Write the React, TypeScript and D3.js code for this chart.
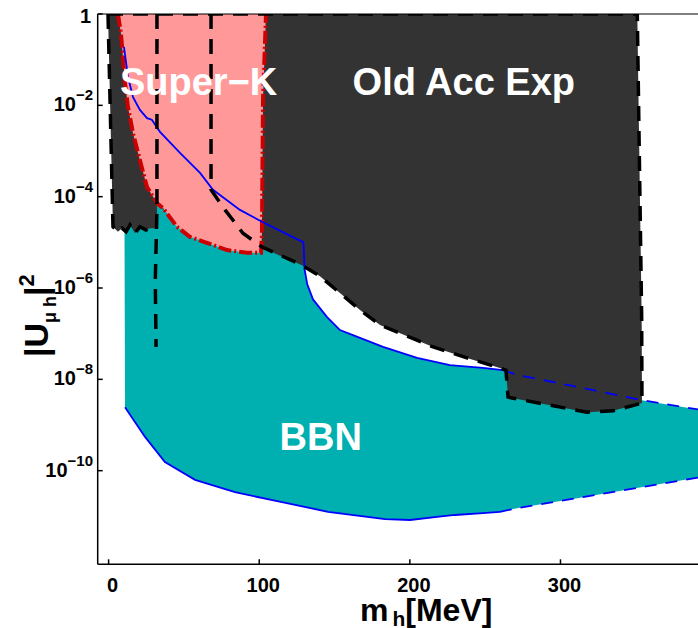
import React from "react";
import * as d3 from "d3";

// ---- data (mass in MeV, log10 |U|^2) ----
const massTicks = [0, 100, 200, 300];
const logTicks = [0, -2, -4, -6, -8, -10];

const bbnUpper: [number, number][] = [
  [10.2, -0.72], [12.9, -1.38], [16.2, -1.82], [20.8, -2.1], [25.5, -2.28], [27.5, -2.3],
  [28.8, -2.32], [34.1, -2.58], [47.4, -3.04], [60.7, -3.48], [69.3, -3.85], [87.2, -4.29],
  [101.8, -4.55], [129.4, -5.0], [130.1, -5.59], [131.9, -5.92], [135.7, -6.25],
  [144.9, -6.63], [153.6, -6.92], [162.2, -7.03], [182.2, -7.29], [204.8, -7.53],
  [226.6, -7.69], [248.5, -7.75], [261.8, -7.8],
];
const bbnUpperDashed: [number, number][] = [
  [261.8, -7.8], [271.1, -7.9], [314.9, -8.19], [352.8, -8.45], [391.3, -8.66],
];
const bbnLower: [number, number][] = [
  [10.9, -8.61], [24.2, -9.26], [37.4, -9.81], [57.4, -10.2], [83.9, -10.47], [115.1, -10.69],
  [145.7, -10.9], [183.5, -11.06], [200.1, -11.08], [218.0, -11.01], [229.9, -10.97],
  [248.5, -10.93], [259.8, -10.9],
];
const bbnLowerDashed: [number, number][] = [
  [259.8, -10.9], [271.1, -10.82], [314.9, -10.58], [391.3, -10.15],
];

const superK: [number, number][] = [
  [6.2, 0], [8.2, -0.42], [10.9, -1.51], [12.9, -2.04], [16.2, -2.61], [20.8, -3.2],
  [25.5, -3.79], [32.1, -4.14], [36.1, -4.25], [45.4, -4.66], [54.0, -4.88], [65.3, -5.01],
  [78.6, -5.17], [91.9, -5.23], [101.2, -5.23], [101.8, -4.8], [102.5, -1.88], [104.5, 0],
];

const oldAccRegion: [number, number][] = [
  [-0.4, 0], [2.9, -4.66], [6.2, -4.77], [8.9, -4.69], [11.6, -4.77], [14.2, -4.62],
  [17.5, -4.8], [20.8, -4.66], [24.8, -4.73], [27.5, -4.69], [31.5, -4.69], [32.1, -4.6],
  [32.1, -4.14], [45.4, -4.6], [54.0, -4.83], [65.3, -4.97], [78.6, -5.12], [91.9, -5.18],
  [101.8, -5.12], [128.4, -5.5], [140.3, -5.74], [153.6, -6.11], [166.9, -6.48],
  [180.2, -6.81], [193.5, -6.99], [215.4, -7.29], [237.9, -7.53], [259.8, -7.75],
  [263.8, -7.8], [265.2, -8.39], [317.6, -8.72], [334.9, -8.69], [354.1, -8.52],
  [353.9, -6.63], [351.0, 0],
];
const oldAccLeftEdge: [number, number][] = [
  [-0.4, 0], [2.9, -4.66], [6.2, -4.77], [8.9, -4.69], [11.6, -4.77], [14.2, -4.62],
  [17.5, -4.8], [20.8, -4.66], [24.8, -4.73], [27.5, -4.69], [31.5, -4.69],
];
const oldAccVertical: [number, number][] = [
  [32.1, 0], [32.1, -4.29], [31.0, -5.83], [31.5, -7.29],
];
const oldAccMain: [number, number][] = [
  [68.0, 0], [68.0, -3.85], [77.3, -4.29], [89.2, -4.8], [101.8, -5.1], [128.4, -5.5],
  [140.3, -5.74], [153.6, -6.11], [166.9, -6.48], [180.2, -6.81], [193.5, -6.99],
  [215.4, -7.29], [237.9, -7.53], [259.8, -7.75], [263.8, -7.8], [265.2, -8.39],
  [317.6, -8.72], [334.9, -8.69], [354.1, -8.52], [353.9, -6.63], [351.0, 0],
];
const oldAccTop: [number, number][] = [[-0.4, 0], [351.0, 0]];

const W = 698;
const H = 628;
const L = 97.7;
const R = 698;
const T = 14;
const B = 564.3;

const FONT = "'Liberation Sans', Arial, Helvetica, sans-serif";

export default function App() {
  const x = d3.scaleLinear().domain([-7.24, 391.3]).range([L, R]);
  const y = d3.scaleLog().domain([Math.pow(10, -12.05), 1]).range([B, T]);
  const line = d3
    .line<[number, number]>()
    .x((d) => x(d[0]))
    .y((d) => y(Math.pow(10, d[1])));
  const closed = (pts: [number, number][]) => line(pts) + "Z";
  const teal = [...bbnUpper, ...bbnUpperDashed.slice(1), ...[...bbnLowerDashed].reverse(), ...[...bbnLower].reverse().slice(1)];

  const blackDash = { fill: "none", stroke: "#000", strokeWidth: 3.5, strokeDasharray: "15,10" };

  return (
    <svg width={W} height={H} style={{ position: "absolute", left: 0, top: 0, background: "#fff" }} fontFamily={FONT}>
      <defs>
        <clipPath id="plot">
          <rect x={L} y={T} width={R - L} height={B - T} />
        </clipPath>
      </defs>
      <g clipPath="url(#plot)">
        <path d={closed(teal)} fill="#00AFAF" />
        <path d={closed(oldAccRegion)} fill="#333333" />
        <path d={closed(superK)} fill="#FF9999" />
        <path d={line(superK) || ""} fill="none" stroke="#CC0000" strokeWidth={4} strokeDasharray="13,3,2,3" />
        <path d={line(bbnUpper) || ""} fill="none" stroke="#0000FF" strokeWidth={1.8} />
        <path d={line(bbnUpperDashed) || ""} fill="none" stroke="#0000FF" strokeWidth={1.8} strokeDasharray="12,9" />
        <path d={line(bbnLower) || ""} fill="none" stroke="#0000FF" strokeWidth={1.8} />
        <path d={line(bbnLowerDashed) || ""} fill="none" stroke="#0000FF" strokeWidth={1.8} strokeDasharray="12,9" />
        <path d={line(oldAccLeftEdge) || ""} {...blackDash} />
        <path d={line(oldAccVertical) || ""} {...blackDash} />
        <path d={line(oldAccMain) || ""} {...blackDash} />
        <path d={line(oldAccTop) || ""} {...blackDash} />
        <text x={x(7.5)} y={y(Math.pow(10, -1.77))} fill="#fff" fontSize={38} fontWeight="bold">Super−K</text>
        <text x={x(162)} y={y(Math.pow(10, -1.77))} fill="#fff" fontSize={38} fontWeight="bold">Old Acc Exp</text>
        <text x={x(113.5)} y={y(Math.pow(10, -9.55))} fill="#fff" fontSize={38} fontWeight="bold">BBN</text>
      </g>
      {/* axes */}
      <line x1={L} x2={R} y1={T} y2={T} stroke="#000" strokeWidth={1.2} />
      <line x1={L} x2={L} y1={T} y2={B} stroke="#000" strokeWidth={1.5} />
      <line x1={L} x2={R} y1={B} y2={B} stroke="#000" strokeWidth={1.5} />
      {massTicks.map((m) => (
        <g key={m}>
          <line x1={x(m)} x2={x(m)} y1={B} y2={B - 5} stroke="#000" strokeWidth={1.5} />
          <text x={x(m) + 4} y={592} textAnchor="middle" fontSize={20} fontWeight="bold">{m}</text>
        </g>
      ))}
      {logTicks.map((e) => (
        <g key={e}>
          <line x1={L} x2={L + 5} y1={y(Math.pow(10, e))} y2={y(Math.pow(10, e))} stroke="#000" strokeWidth={1.5} />
          {e === 0 ? (
            <text x={91} y={y(1) + 9} textAnchor="end" fontSize={20} fontWeight="bold">1</text>
          ) : (
            <text x={93} y={y(Math.pow(10, e)) + 6} textAnchor="end" fontSize={20} fontWeight="bold">
              10<tspan dy={-11} fontSize={15}>{"−" + String(-e)}</tspan>
            </text>
          )}
        </g>
      ))}
      {/* y label */}
      <text transform="translate(48,357) rotate(-90)" fontSize={34} fontWeight="bold">
        |U<tspan dy={8} fontSize={18}>μ h</tspan><tspan dy={-8}>|</tspan><tspan dy={-14} fontSize={22}>2</tspan>
      </text>
      {/* x label */}
      <text x={360} y={621} fontSize={32} fontWeight="bold">
        m<tspan dx={4} dy={5} fontSize={21}>h</tspan><tspan dy={-5}>[MeV]</tspan>
      </text>
    </svg>
  );
}
